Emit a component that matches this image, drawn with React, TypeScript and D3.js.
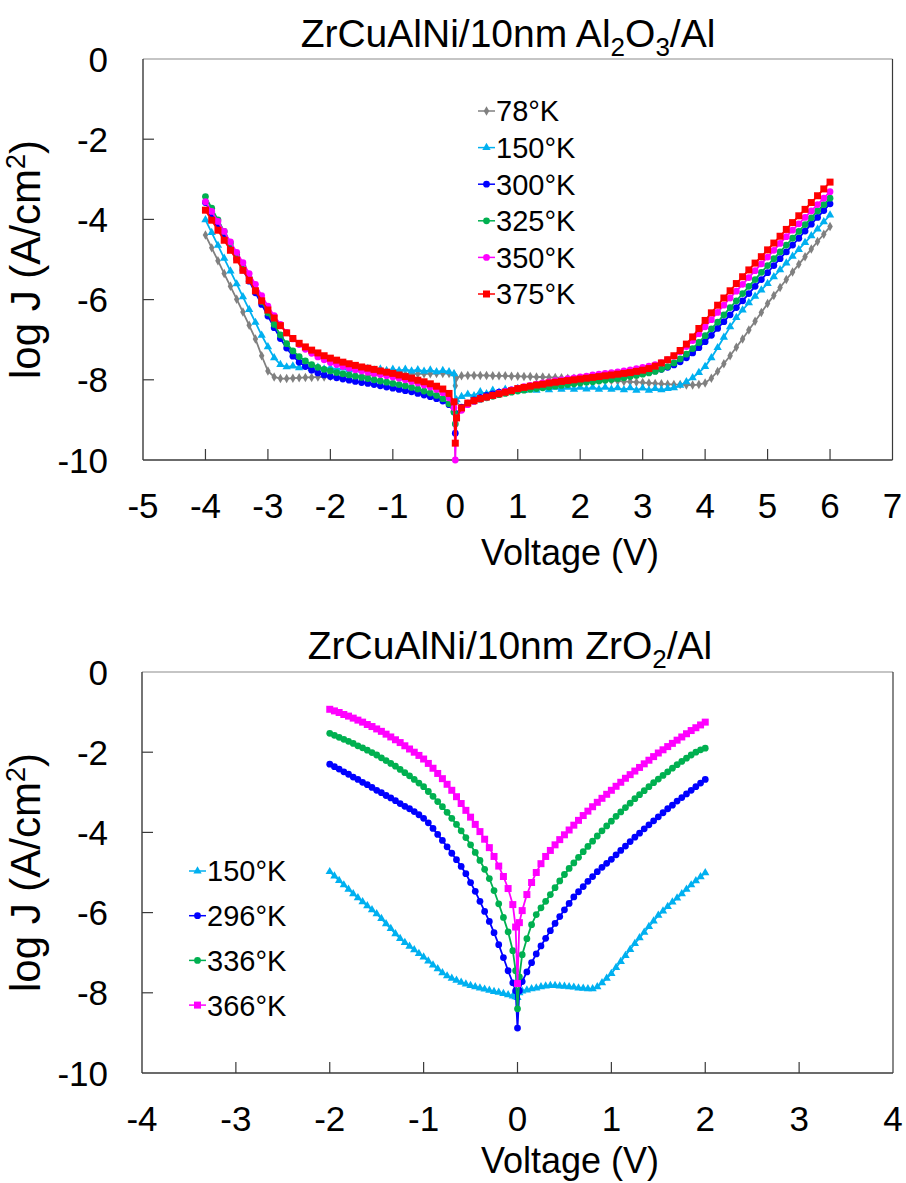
import React from "react";
import * as d3 from "d3";

const FONT = "'Liberation Sans', Arial, Helvetica, sans-serif";

// ---------- Al2O3 device: voltage sweep and log J per temperature ----------
const V_AL = [
  -4.0, -3.9, -3.8, -3.7, -3.6, -3.5, -3.4, -3.3, -3.2, -3.1,
  -3.0, -2.9, -2.8, -2.7, -2.6, -2.5, -2.4, -2.3, -2.2, -2.1,
  -2.0, -1.9, -1.8, -1.7, -1.6, -1.5, -1.4, -1.3, -1.2, -1.1,
  -1.0, -0.9, -0.8, -0.7, -0.6, -0.5, -0.4, -0.3, -0.2, -0.1, -0.02,
  0.0, 0.02, 0.1, 0.2, 0.3, 0.4, 0.5, 0.6, 0.7, 0.8, 0.9,
  1.0, 1.1, 1.2, 1.3, 1.4, 1.5, 1.6, 1.7, 1.8, 1.9,
  2.0, 2.1, 2.2, 2.3, 2.4, 2.5, 2.6, 2.7, 2.8, 2.9,
  3.0, 3.1, 3.2, 3.3, 3.4, 3.5, 3.6, 3.7, 3.8, 3.9,
  4.0, 4.1, 4.2, 4.3, 4.4, 4.5, 4.6, 4.7, 4.8, 4.9,
  5.0, 5.1, 5.2, 5.3, 5.4, 5.5, 5.6, 5.7, 5.8, 5.9,
  6.0,
];

const AL_78K = [
  -4.39, -4.71, -5.03, -5.35, -5.67, -5.99, -6.31, -6.64, -6.98, -7.40,
  -7.78, -7.93, -7.97, -7.97, -7.96, -7.95, -7.94, -7.94, -7.93, -7.93,
  -7.92, -7.92, -7.91, -7.91, -7.90, -7.90, -7.89, -7.89, -7.88, -7.88,
  -7.87, -7.87, -7.86, -7.86, -7.85, -7.85, -7.85, -7.84, -7.84, -7.84, -7.86,
  -8.15, -7.95, -7.90, -7.89, -7.89, -7.89, -7.89, -7.90, -7.90, -7.90, -7.91,
  -7.91, -7.92, -7.92, -7.93, -7.93, -7.94, -7.94, -7.95, -7.96, -7.96,
  -7.97, -7.98, -7.99, -8.00, -8.01, -8.02, -8.03, -8.04, -8.05, -8.06,
  -8.07, -8.08, -8.09, -8.10, -8.11, -8.12, -8.12, -8.13, -8.13, -8.12,
  -8.08, -7.96, -7.79, -7.60, -7.40, -7.19, -6.98, -6.76, -6.54, -6.32,
  -6.10, -5.90, -5.70, -5.50, -5.31, -5.12, -4.93, -4.74, -4.55, -4.37,
  -4.18,
];

const AL_150K = [
  -4.01, -4.33, -4.65, -4.97, -5.29, -5.61, -5.93, -6.25, -6.57, -6.89,
  -7.18, -7.45, -7.62, -7.68, -7.66, -7.70, -7.67, -7.72, -7.69, -7.73,
  -7.70, -7.74, -7.71, -7.75, -7.72, -7.76, -7.72, -7.76, -7.73, -7.77,
  -7.74, -7.77, -7.74, -7.78, -7.75, -7.79, -7.76, -7.80, -7.77, -7.80, -7.85,
  -8.55, -8.50, -8.42, -8.36, -8.40, -8.30, -8.35, -8.26, -8.31, -8.24, -8.29,
  -8.22, -8.27, -8.21, -8.26, -8.20, -8.25, -8.19, -8.24, -8.19, -8.24,
  -8.19, -8.23, -8.19, -8.24, -8.19, -8.24, -8.20, -8.25, -8.20, -8.26,
  -8.21, -8.26, -8.22, -8.25, -8.22, -8.20, -8.14, -8.05, -7.95, -7.82,
  -7.67, -7.45, -7.20, -6.94, -6.68, -6.45, -6.26, -6.08, -5.92, -5.76,
  -5.60, -5.43, -5.26, -5.09, -4.92, -4.75, -4.58, -4.41, -4.24, -4.06,
  -3.89,
];

const AL_300K = [
  -3.58, -3.86, -4.14, -4.42, -4.70, -4.98, -5.26, -5.54, -5.83, -6.12,
  -6.41, -6.70, -6.97, -7.21, -7.41, -7.56, -7.67, -7.76, -7.83, -7.88,
  -7.92, -7.95, -7.98, -8.01, -8.04, -8.07, -8.09, -8.12, -8.15, -8.18,
  -8.21, -8.24, -8.27, -8.30, -8.34, -8.38, -8.42, -8.47, -8.53, -8.62, -8.80,
  -9.33, -8.85, -8.68, -8.58, -8.50, -8.44, -8.39, -8.35, -8.31, -8.28, -8.25,
  -8.22, -8.20, -8.18, -8.16, -8.14, -8.12, -8.10, -8.08, -8.06, -8.04,
  -8.03, -8.01, -7.99, -7.97, -7.96, -7.94, -7.92, -7.90, -7.88, -7.86,
  -7.84, -7.81, -7.78, -7.74, -7.69, -7.63, -7.55, -7.45, -7.33, -7.20,
  -7.05, -6.89, -6.72, -6.55, -6.38, -6.20, -6.03, -5.85, -5.67, -5.50,
  -5.33, -5.15, -4.98, -4.81, -4.64, -4.47, -4.29, -4.12, -3.95, -3.78,
  -3.61,
];

const AL_325K = [
  -3.43, -3.72, -4.01, -4.30, -4.59, -4.88, -5.17, -5.46, -5.76, -6.05,
  -6.33, -6.62, -6.88, -7.10, -7.28, -7.42, -7.53, -7.62, -7.69, -7.74,
  -7.78, -7.82, -7.85, -7.88, -7.91, -7.94, -7.97, -8.00, -8.03, -8.06,
  -8.09, -8.12, -8.15, -8.19, -8.23, -8.28, -8.33, -8.39, -8.47, -8.60, -8.80,
  -9.10, -8.90, -8.72, -8.60, -8.54, -8.49, -8.45, -8.41, -8.37, -8.34, -8.31,
  -8.28, -8.26, -8.24, -8.22, -8.20, -8.18, -8.16, -8.14, -8.12, -8.10,
  -8.08, -8.06, -8.05, -8.03, -8.01, -7.99, -7.97, -7.95, -7.92, -7.89,
  -7.86, -7.83, -7.79, -7.74, -7.67, -7.58, -7.48, -7.36, -7.22, -7.07,
  -6.90, -6.73, -6.56, -6.38, -6.20, -6.03, -5.85, -5.67, -5.50, -5.32,
  -5.15, -4.98, -4.81, -4.64, -4.47, -4.30, -4.13, -3.96, -3.79, -3.63,
  -3.47,
];

const AL_350K = [
  -3.56, -3.80, -4.05, -4.30, -4.56, -4.82, -5.08, -5.35, -5.62, -5.90,
  -6.16, -6.40, -6.62, -6.82, -6.98, -7.12, -7.24, -7.34, -7.43, -7.50,
  -7.57, -7.62, -7.67, -7.71, -7.75, -7.78, -7.81, -7.84, -7.87, -7.90,
  -7.93, -7.96, -8.00, -8.04, -8.08, -8.13, -8.18, -8.24, -8.32, -8.45, -8.70,
  -10.0, -8.95, -8.76, -8.62, -8.54, -8.48, -8.43, -8.38, -8.33, -8.29, -8.25,
  -8.21, -8.17, -8.14, -8.11, -8.08, -8.05, -8.02, -8.00, -7.97, -7.95,
  -7.93, -7.91, -7.88, -7.86, -7.84, -7.82, -7.80, -7.78, -7.75, -7.72,
  -7.69, -7.66, -7.62, -7.57, -7.50, -7.41, -7.30, -7.17, -7.02, -6.85,
  -6.68, -6.50, -6.32, -6.14, -5.96, -5.79, -5.62, -5.45, -5.28, -5.11,
  -4.94, -4.77, -4.60, -4.43, -4.27, -4.11, -3.95, -3.79, -3.63, -3.47,
  -3.31,
];

const AL_375K = [
  -3.77, -4.02, -4.27, -4.52, -4.77, -5.01, -5.27, -5.52, -5.78, -6.03,
  -6.26, -6.46, -6.65, -6.83, -6.97, -7.09, -7.18, -7.26, -7.33, -7.40,
  -7.46, -7.51, -7.56, -7.60, -7.64, -7.68, -7.71, -7.74, -7.78, -7.81,
  -7.84, -7.88, -7.92, -7.96, -8.01, -8.05, -8.10, -8.16, -8.23, -8.34, -8.55,
  -9.58, -8.95, -8.70, -8.58, -8.52, -8.47, -8.43, -8.39, -8.35, -8.31, -8.27,
  -8.22, -8.19, -8.16, -8.13, -8.11, -8.08, -8.06, -8.04, -8.02, -8.00,
  -7.98, -7.96, -7.94, -7.92, -7.90, -7.88, -7.86, -7.84, -7.82, -7.79,
  -7.76, -7.72, -7.66, -7.58, -7.50, -7.40, -7.27, -7.11, -6.93, -6.72,
  -6.52, -6.33, -6.14, -5.96, -5.78, -5.60, -5.43, -5.26, -5.09, -4.93,
  -4.76, -4.59, -4.42, -4.25, -4.08, -3.91, -3.75, -3.58, -3.41, -3.24,
  -3.07,
];

// ---------- ZrO2 device ----------
const V_ZR = [
  -2.0, -1.95, -1.9, -1.85, -1.8, -1.75, -1.7, -1.65, -1.6, -1.55,
  -1.5, -1.45, -1.4, -1.35, -1.3, -1.25, -1.2, -1.15, -1.1, -1.05,
  -1.0, -0.95, -0.9, -0.85, -0.8, -0.75, -0.7, -0.65, -0.6, -0.55,
  -0.5, -0.45, -0.4, -0.35, -0.3, -0.25, -0.2, -0.15, -0.1, -0.05,
  -0.02, 0.0, 0.02,
  0.05, 0.1, 0.15, 0.2, 0.25, 0.3, 0.35, 0.4, 0.45, 0.5,
  0.55, 0.6, 0.65, 0.7, 0.75, 0.8, 0.85, 0.9, 0.95, 1.0,
  1.05, 1.1, 1.15, 1.2, 1.25, 1.3, 1.35, 1.4, 1.45, 1.5,
  1.55, 1.6, 1.65, 1.7, 1.75, 1.8, 1.85, 1.9, 1.95, 2.0,
];

const ZR_150K = [
  -4.98, -5.09, -5.20, -5.31, -5.42, -5.53, -5.63, -5.73, -5.83, -5.93,
  -6.03, -6.15, -6.28, -6.40, -6.53, -6.65, -6.75, -6.84, -6.93, -7.02,
  -7.11, -7.21, -7.31, -7.40, -7.50, -7.58, -7.64, -7.69, -7.74, -7.78,
  -7.82, -7.85, -7.88, -7.91, -7.94, -7.97, -7.99, -8.02, -8.05, -8.08,
  -8.10, -8.12, -8.00,
  -7.96, -7.93, -7.90, -7.88, -7.85, -7.83, -7.82, -7.82, -7.83, -7.84,
  -7.85, -7.86, -7.88, -7.89, -7.90, -7.90, -7.85, -7.75, -7.64, -7.52,
  -7.37, -7.22, -7.07, -6.92, -6.77, -6.63, -6.49, -6.35, -6.21, -6.07,
  -5.96, -5.85, -5.74, -5.64, -5.53, -5.42, -5.31, -5.21, -5.11, -5.01,
];

const ZR_296K = [
  -2.30, -2.36, -2.42, -2.49, -2.55, -2.62, -2.68, -2.75, -2.81, -2.88,
  -2.95, -3.01, -3.08, -3.14, -3.21, -3.28, -3.35, -3.41, -3.48, -3.56,
  -3.65, -3.76, -3.90, -4.05, -4.20, -4.36, -4.52, -4.68, -4.85, -5.03,
  -5.25, -5.47, -5.72, -5.97, -6.22, -6.50, -6.80, -7.12, -7.45, -7.75,
  -7.95, -8.88, -7.95,
  -7.72, -7.48, -7.25, -7.03, -6.83, -6.64, -6.45, -6.27, -6.10, -5.93,
  -5.77, -5.61, -5.48, -5.35, -5.22, -5.10, -4.98, -4.87, -4.77, -4.67,
  -4.56, -4.45, -4.34, -4.23, -4.12, -4.02, -3.91, -3.81, -3.71, -3.61,
  -3.51, -3.41, -3.32, -3.22, -3.13, -3.04, -2.95, -2.86, -2.77, -2.68,
];

const ZR_336K = [
  -1.53, -1.58, -1.63, -1.68, -1.73, -1.78, -1.84, -1.89, -1.95, -2.01,
  -2.07, -2.14, -2.21, -2.28, -2.35, -2.43, -2.51, -2.59, -2.68, -2.77,
  -2.86, -2.98, -3.10, -3.23, -3.36, -3.50, -3.65, -3.80, -3.96, -4.13,
  -4.31, -4.50, -4.70, -4.92, -5.15, -5.45, -5.78, -6.12, -6.48, -6.95,
  -7.45, -8.40, -7.60,
  -7.05, -6.65, -6.30, -6.05, -5.88, -5.72, -5.55, -5.38, -5.21, -5.05,
  -4.90, -4.76, -4.62, -4.48, -4.35, -4.22, -4.09, -3.96, -3.84, -3.72,
  -3.60, -3.49, -3.38, -3.27, -3.16, -3.06, -2.96, -2.86, -2.76, -2.67,
  -2.58, -2.49, -2.40, -2.31, -2.23, -2.15, -2.07, -2.00, -1.94, -1.90,
];

const ZR_366K = [
  -0.93, -0.97, -1.01, -1.06, -1.10, -1.15, -1.20, -1.25, -1.31, -1.36,
  -1.42, -1.48, -1.55, -1.62, -1.69, -1.76, -1.84, -1.92, -2.00, -2.08,
  -2.17, -2.28, -2.40, -2.53, -2.66, -2.80, -2.95, -3.11, -3.28, -3.45,
  -3.62, -3.80, -3.98, -4.17, -4.38, -4.60, -4.84, -5.10, -5.40, -5.80,
  -6.36, -7.77, -6.25,
  -5.95, -5.55, -5.25, -5.00, -4.78, -4.60, -4.45, -4.31, -4.18, -4.06,
  -3.94, -3.82, -3.70, -3.58, -3.47, -3.36, -3.25, -3.15, -3.05, -2.95,
  -2.85, -2.75, -2.65, -2.56, -2.47, -2.38, -2.29, -2.20, -2.11, -2.02,
  -1.94, -1.86, -1.78, -1.70, -1.62, -1.54, -1.46, -1.39, -1.32, -1.25,
];

const Y_TICKS = [0, -2, -4, -6, -8, -10];
const X_TICKS_AL = [-5, -4, -3, -2, -1, 0, 1, 2, 3, 4, 5, 6, 7];
const X_TICKS_ZR = [-4, -3, -2, -1, 0, 1, 2, 3, 4];

type Marker = "diamond" | "triangle" | "circle" | "square";
type Series = { label: string; color: string; marker: Marker; v: number[]; j: number[] };

const AL_SERIES: Series[] = [
  { label: "78°K", color: "#808080", marker: "diamond", v: V_AL, j: AL_78K },
  { label: "150°K", color: "#00B0F0", marker: "triangle", v: V_AL, j: AL_150K },
  { label: "300°K", color: "#0000FF", marker: "circle", v: V_AL, j: AL_300K },
  { label: "325°K", color: "#00B050", marker: "circle", v: V_AL, j: AL_325K },
  { label: "350°K", color: "#FF00FF", marker: "circle", v: V_AL, j: AL_350K },
  { label: "375°K", color: "#FF0000", marker: "square", v: V_AL, j: AL_375K },
];

const ZR_SERIES: Series[] = [
  { label: "150°K", color: "#00B0F0", marker: "triangle", v: V_ZR, j: ZR_150K },
  { label: "296°K", color: "#0000FF", marker: "circle", v: V_ZR, j: ZR_296K },
  { label: "336°K", color: "#00B050", marker: "circle", v: V_ZR, j: ZR_336K },
  { label: "366°K", color: "#FF00FF", marker: "square", v: V_ZR, j: ZR_366K },
];

const SYMBOLS: Record<Marker, { type: d3.SymbolType; size: number }> = {
  diamond: { type: d3.symbolDiamond, size: 26 },
  triangle: { type: d3.symbolTriangle, size: 30 },
  circle: { type: d3.symbolCircle, size: 36 },
  square: { type: d3.symbolSquare, size: 49 },
};

function symbolPath(m: Marker) {
  const s = SYMBOLS[m];
  return d3.symbol().type(s.type).size(s.size)() as string;
}

type PanelProps = {
  left: number;
  right: number;
  top: number;
  bottom: number;
  xDomain: [number, number];
  xTicks: number[];
  series: Series[];
  title: React.ReactNode;
  titleX: number;
  titleY: number;
  xTitleX: number;
  xTitleY: number;
  legendX: number;
  legendY: number;
  legendStep: number;
  legendFont: number;
};

function Panel(p: PanelProps) {
  const x = d3.scaleLinear().domain(p.xDomain).range([p.left, p.right]);
  const y = d3.scaleLinear().domain([-10, 0]).range([p.bottom, p.top]);
  const line = d3
    .line<[number, number]>()
    .x((d) => x(d[0]))
    .y((d) => y(d[1]));
  const innerX = p.xTicks.filter((t) => t > p.xDomain[0] && t < p.xDomain[1]);
  const innerY = Y_TICKS.filter((t) => t > -10 && t < 0);
  const axisColor = "#3a3a3a";
  const midY = (p.top + p.bottom) / 2;

  return (
    <g>
      {/* plot frame */}
      <line x1={p.left} x2={p.right} y1={p.top} y2={p.top} stroke="#8c8c8c" strokeWidth={1.2} />
      <line x1={p.right} x2={p.right} y1={p.top} y2={p.bottom} stroke={axisColor} strokeWidth={1.2} />
      <line x1={p.left} x2={p.left} y1={p.top} y2={p.bottom} stroke={axisColor} strokeWidth={1.4} />
      <line x1={p.left} x2={p.right} y1={p.bottom} y2={p.bottom} stroke={axisColor} strokeWidth={1.4} />

      {/* inward ticks */}
      {innerX.map((t) => (
        <line key={"xt" + t} x1={x(t)} x2={x(t)} y1={p.bottom} y2={p.bottom - 11} stroke={axisColor} strokeWidth={1.2} />
      ))}
      {innerY.map((t) => (
        <line key={"yt" + t} x1={p.left} x2={p.left + 11} y1={y(t)} y2={y(t)} stroke={axisColor} strokeWidth={1.2} />
      ))}

      {/* tick labels */}
      {p.xTicks.map((t) => (
        <text key={"xl" + t} x={x(t)} y={p.bottom + 58} fontSize={35} textAnchor="middle" fontFamily={FONT} fill="#000">
          {t}
        </text>
      ))}
      {Y_TICKS.map((t) => (
        <text key={"yl" + t} x={108} y={y(t) + 12.5} fontSize={35} textAnchor="end" fontFamily={FONT} fill="#000">
          {t}
        </text>
      ))}

      {/* axis titles */}
      <text x={p.xTitleX} y={p.xTitleY} fontSize={36} textAnchor="middle" fontFamily={FONT} fill="#000">
        Voltage (V)
      </text>
      <text
        transform={`translate(40,${midY}) rotate(-90)`}
        fontSize={42}
        textAnchor="middle"
        fontFamily={FONT}
        fill="#000"
      >
        log J (A/cm<tspan dy={-15} fontSize={27}>2</tspan>
        <tspan dy={15}>)</tspan>
      </text>

      {/* chart title */}
      <text x={p.titleX} y={p.titleY} fontSize={39} textAnchor="middle" fontFamily={FONT} fill="#000">
        {p.title}
      </text>

      {/* data */}
      {p.series.map((s) => {
        const pts = s.v.map((v, i) => [v, s.j[i]] as [number, number]);
        const path = symbolPath(s.marker);
        return (
          <g key={s.label}>
            <path d={line(pts) as string} fill="none" stroke={s.color} strokeWidth={1.8} />
            {pts.map((d, i) => (
              <path key={i} d={path} transform={`translate(${x(d[0])},${y(d[1])})`} fill={s.color} />
            ))}
          </g>
        );
      })}

      {/* legend */}
      {p.series.map((s, i) => {
        const cy = p.legendY + i * p.legendStep;
        return (
          <g key={"lg" + s.label}>
            <line x1={p.legendX} x2={p.legendX + 17} y1={cy} y2={cy} stroke={s.color} strokeWidth={1.5} />
            <path d={symbolPath(s.marker)} transform={`translate(${p.legendX + 8.5},${cy})`} fill={s.color} />
            <text x={p.legendX + 18} y={cy + p.legendFont * 0.36} fontSize={p.legendFont} fontFamily={FONT} fill="#000">
              {s.label}
            </text>
          </g>
        );
      })}
    </g>
  );
}

export default function App() {
  return (
    <svg
      width={906}
      height={1183}
      style={{ position: "absolute", left: 0, top: 0, background: "#fff" }}
    >
      <rect width={906} height={1183} fill="#fff" />
      <Panel
        left={143}
        right={892.5}
        top={59}
        bottom={460}
        xDomain={[-5, 7]}
        xTicks={X_TICKS_AL}
        series={AL_SERIES}
        titleX={508}
        titleY={47}
        xTitleX={570}
        xTitleY={565}
        legendX={478}
        legendY={111}
        legendStep={36.6}
        legendFont={29}
        title={
          <>
            ZrCuAlNi/10nm Al<tspan dy={9} fontSize={26}>2</tspan>
            <tspan dy={-9}>O</tspan>
            <tspan dy={9} fontSize={26}>3</tspan>
            <tspan dy={-9}>/Al</tspan>
          </>
        }
      />
      <Panel
        left={142}
        right={893}
        top={672}
        bottom={1073}
        xDomain={[-4, 4]}
        xTicks={X_TICKS_ZR}
        series={ZR_SERIES}
        titleX={510}
        titleY={659}
        xTitleX={570}
        xTitleY={1173}
        legendX={189}
        legendY={871}
        legendStep={44.7}
        legendFont={29}
        title={
          <>
            ZrCuAlNi/10nm ZrO<tspan dy={9} fontSize={26}>2</tspan>
            <tspan dy={-9}>/Al</tspan>
          </>
        }
      />
    </svg>
  );
}
